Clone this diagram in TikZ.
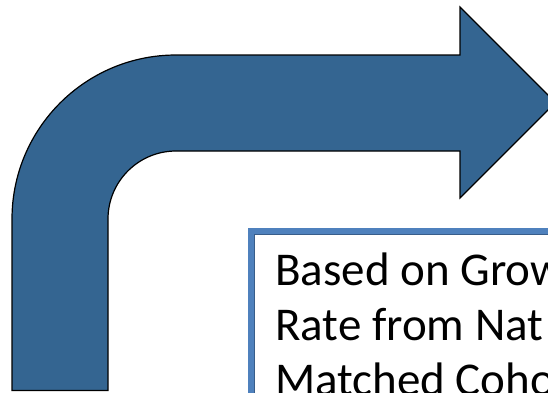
\documentclass[tikz,border=0pt]{standalone}
\usepackage{fontspec}
\setmainfont{Carlito}
\usetikzlibrary{positioning}
\definecolor{arrowblue}{RGB}{52,101,145}
\definecolor{boxblue}{RGB}{79,129,189}
\definecolor{boxedge}{RGB}{56,93,138}

\begin{document}
\begin{tikzpicture}[x=1pt,y=-1pt]
  \tikzstyle{bent arrow}=[draw=black,line width=1.2pt,fill=arrowblue,line join=miter]
  \tikzset{
note box/.style={draw=boxblue,line width=6pt,fill=white},
note line/.style={anchor=base west,inner sep=0,font=\fontsize{47}{55}\selectfont}
}
  \useasboundingbox (0,0) rectangle (548,392);
  \clip (0,0) rectangle (548,392);
  % the bent arrow
  \draw[bent arrow] (12,390.5) -- (12,219)
    arc[start angle=180,end angle=270,radius=164] -- (460,55) -- (460,7)
    -- (555.5,102.5) -- (460,198) -- (460,151) -- (176,151)
    arc[start angle=270,end angle=180,radius=68] -- (108,390.5) -- cycle;
  % the text box
  \draw[note box] (251,231) rectangle (570,410);
  \draw[boxedge,line width=0.8pt] (254.5,234.5) rectangle (570,410);
  \node[note line](line1) at (275,285){Based on Grow};
  \node[note line](line2) at (275,340){Rate from Nat};
  \node[note line](line3) at (275,395){Matched Coho};
\end{tikzpicture}
\end{document}
